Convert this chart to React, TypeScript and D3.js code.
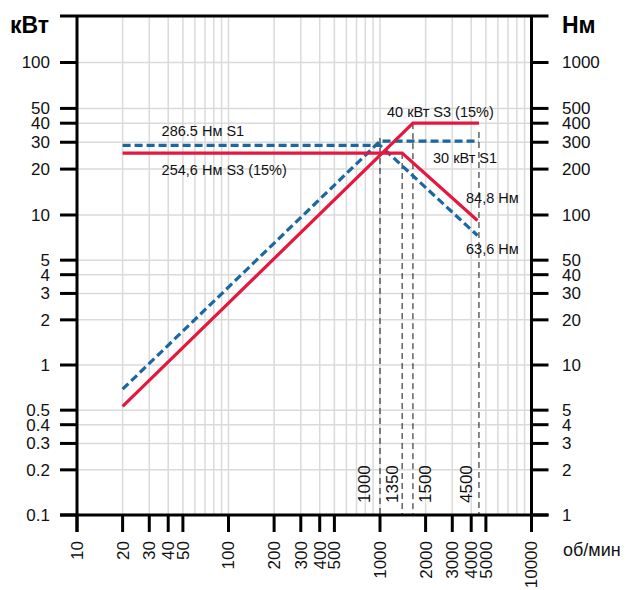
import React from "react";
import * as d3 from "d3";

// axis ticks
const speedTicks = [10, 20, 30, 40, 50, 100, 200, 300, 400, 500, 1000, 2000, 3000, 4000, 5000, 10000];
const kwTicks = [0.1, 0.2, 0.3, 0.4, 0.5, 1, 2, 3, 4, 5, 10, 20, 30, 40, 50, 100];
const nmTicks = [1, 2, 3, 4, 5, 10, 20, 30, 40, 50, 100, 200, 300, 400, 500, 1000];

// S3 (15%) - red solid
const s3PowerRpm = [20, 1650, 4500];
const s3PowerKw = [0.53, 40, 40];
const s3TorqueRpm = [20, 1400, 4400];
const s3TorqueNm = [254.6, 254.6, 92];

// S1 - blue dashed
const s1PowerRpm = [20, 1000, 4500];
const s1PowerKw = [0.69, 30.5, 30.5];
const s1TorqueRpm = [20, 1000, 4400];
const s1TorqueNm = [286.5, 286.5, 73];

// vertical guides
const guideRpm = [1000, 1400, 1650, 4500];
const guideTopKw = [32, 25.5, 40, 35];
const guideLabels = ["1000", "1350", "1500", "4500"];
const guideLabelDx = [-16, -10, 12, -13];

const W = 627;
const H = 590;
const RED = "#e5173f";
const BLUE = "#1b67a2";
const FONT = "'Liberation Sans', Arial, Helvetica, sans-serif";

export default function App() {
  const x = d3.scaleLog().domain([10, 10000]).range([77, 531.5]);
  const yKw = d3.scaleLog().domain([0.1, 10, 100, 200]).range([515, 215, 62.5, 16]);
  const yNm = d3.scaleLog().domain([1, 100, 1000, 2000]).range([515, 215, 62.5, 16]);

  const left = 77, right = 531.5, top = 16, bottom = 515, tick = 17;

  const zip = (a: number[], b: number[]) => a.map((v, i) => [v, b[i]] as [number, number]);
  const lineKw = d3.line<[number, number]>().x((d) => x(d[0])).y((d) => yKw(d[1]));
  const lineNm = d3.line<[number, number]>().x((d) => x(d[0])).y((d) => yNm(d[1]));

  const xGrid = x.ticks().filter((v) => v > 10 && v < 10000);

  const ann = { fontFamily: FONT, fontSize: 14.5, fill: "#111" };

  return (
    <svg width={W} height={H} style={{ position: "absolute", left: 0, top: 0, background: "#fff" }}>
      {/* grid */}
      <g stroke="#dadada" strokeWidth={1.5}>
        {xGrid.map((v) => (
          <line key={"gx" + v} x1={x(v)} x2={x(v)} y1={top} y2={bottom} />
        ))}
        {kwTicks.filter((v) => v > 0.1).map((v) => (
          <line key={"gy" + v} x1={left} x2={right} y1={yKw(v)} y2={yKw(v)} />
        ))}
      </g>

      {/* guides */}
      <g stroke="#111" strokeWidth={1} strokeDasharray="6,4" fill="none">
        {guideRpm.map((r, i) => (
          <line key={"g" + i} x1={x(r)} x2={x(r)} y1={yKw(guideTopKw[i])} y2={bottom} />
        ))}
      </g>
      {guideRpm.map((r, i) => (
        <text
          key={"gl" + i}
          transform={`translate(${x(r) + guideLabelDx[i]},503) rotate(-90)`}
          dy="0.35em"
          textAnchor="start"
          fontFamily={FONT}
          fontSize={17}
          fill="#111"
        >
          {guideLabels[i]}
        </text>
      ))}

      {/* curves */}
      <g fill="none" strokeWidth={3.2} strokeLinecap="butt">
        <path d={lineKw(zip(s1PowerRpm, s1PowerKw)) || ""} stroke={BLUE} strokeDasharray="8,4" />
        <path d={lineNm(zip(s1TorqueRpm, s1TorqueNm)) || ""} stroke={BLUE} strokeDasharray="8,4" />
        <path d={lineKw(zip(s3PowerRpm, s3PowerKw)) || ""} stroke={RED} />
        <path d={lineNm(zip(s3TorqueRpm, s3TorqueNm)) || ""} stroke={RED} />
      </g>

      {/* axes frame */}
      <g stroke="#000" strokeWidth={3}>
        <line x1={left - tick} x2={right + tick} y1={top} y2={top} />
        <line x1={left - tick} x2={right + tick} y1={bottom} y2={bottom} />
        <line x1={left} x2={left} y1={top} y2={bottom + tick} />
        <line x1={right} x2={right} y1={top} y2={bottom + tick} />
        {kwTicks.map((v) => (
          <line key={"lt" + v} x1={left - tick} x2={left} y1={yKw(v)} y2={yKw(v)} />
        ))}
        {nmTicks.map((v) => (
          <line key={"rt" + v} x1={right} x2={right + tick} y1={yNm(v)} y2={yNm(v)} />
        ))}
        {speedTicks.map((v) => (
          <line key={"bt" + v} x1={x(v)} x2={x(v)} y1={bottom} y2={bottom + tick} />
        ))}
      </g>

      {/* tick labels */}
      <g fontFamily={FONT} fontSize={17} fill="#111">
        {kwTicks.map((v) => (
          <text key={"ll" + v} x={50} y={yKw(v)} dy="0.35em" textAnchor="end">
            {String(v)}
          </text>
        ))}
        {nmTicks.map((v) => (
          <text key={"rl" + v} x={562} y={yNm(v)} dy="0.35em" textAnchor="start">
            {String(v)}
          </text>
        ))}
      </g>
      <g fontFamily={FONT} fontSize={17} fill="#111">
        {speedTicks.map((v) => (
          <text
            key={"bl" + v}
            transform={`translate(${x(v)},541) rotate(-90)`}
            dy="0.35em"
            textAnchor="end"
          >
            {String(v)}
          </text>
        ))}
        <text x={563} y={550} dy="0.35em" fontSize={18}>об/мин</text>
      </g>

      {/* axis titles */}
      <text x={10} y={33} fontFamily={FONT} fontSize={23} fontWeight="bold" fill="#000">кВт</text>
      <text x={562} y={33} fontFamily={FONT} fontSize={23} fontWeight="bold" fill="#000">Нм</text>

      {/* annotations */}
      <text {...ann} x={x(20) + 39} y={yNm(s1TorqueNm[0]) - 9}>286.5 Нм S1</text>
      <text {...ann} x={x(20) + 39} y={yNm(s3TorqueNm[0]) + 22}>254,6 Нм S3 (15%)</text>
      <text {...ann} x={387} y={yKw(s3PowerKw[1]) - 6}>40 кВт S3 (15%)</text>
      <text {...ann} x={433} y={yKw(s1PowerKw[1]) + 22}>30 кВт S1</text>
      <text {...ann} x={466} y={yNm(s3TorqueNm[2]) - 17}>84,8 Нм</text>
      <text {...ann} x={466} y={yNm(s1TorqueNm[2]) + 18}>63,6 Нм</text>
    </svg>
  );
}
